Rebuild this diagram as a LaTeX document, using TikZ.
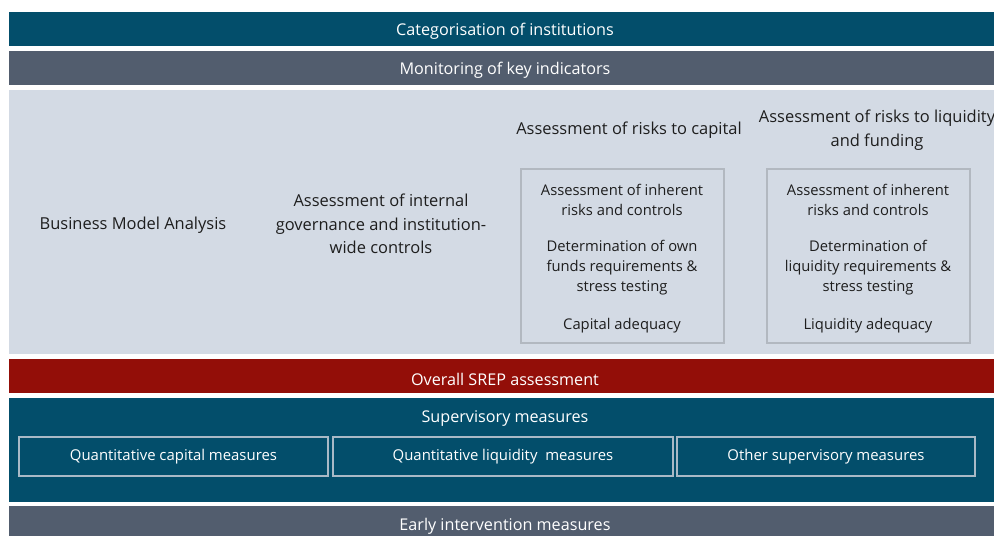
\documentclass[tikz,border=0pt]{standalone}
\usepackage{fontspec}
\setmainfont{Open Sans}
\usepackage{tikz}
\usetikzlibrary{positioning}

\definecolor{srepteal}{HTML}{034E6B}
\definecolor{srepslate}{HTML}{525D6E}
\definecolor{sreplight}{HTML}{D3DAE4}
\definecolor{srepred}{HTML}{930E08}
\definecolor{boxline}{HTML}{B2B8C0}
\definecolor{measline}{HTML}{A9B9C6}
\definecolor{darktext}{HTML}{1E1E1E}

\begin{document}
\begin{tikzpicture}[x=0.025cm,y=-0.025cm,
    bandtext/.style={text=white, font=\fontsize{11.5}{13}\selectfont},
    bigtext/.style={align=center, text=darktext, font=\fontsize{11.7}{16.8}\selectfont},
    smalltext/.style={align=center, text=darktext, font=\fontsize{10.5}{14.2}\selectfont},
    riskbox/.style={draw=boxline, line width=0.8pt, minimum width=5.075cm, minimum height=4.35cm},
    measbox/.style={draw=measline, line width=0.9pt, minimum height=0.975cm, inner sep=0pt,
        text=white, font=\fontsize{10.6}{12}\selectfont}]
    \clip (0,0) rectangle (994,536);
    \fill[white] (0,0) rectangle (994,536);

    % top bands
    \path[fill=srepteal] (9,12) rectangle (1001,46);
    \path[fill=srepslate] (9,51) rectangle (1001,85);
    \node[bandtext] (categ) at (505,31) {Categorisation of institutions};
    \node[bandtext] (monit) at (505,70) {Monitoring of key indicators};

    % pillars
    \node[rectangle, fill=sreplight, minimum width=24.8cm, minimum height=6.6cm] (pillars) at (505,222) {};
    \node[bigtext] (bma) at (133,225) {Business Model Analysis};
    \node[bigtext] (gov) at (381,224) {Assessment of internal\\governance and institution-\\wide controls};
    \node[bigtext] (capital) at (629,130) {Assessment of risks to capital};
    \node[bigtext] (liquidity) at (877,130) {Assessment of risks to liquidity\\and funding};

    \node[riskbox] (capbox) at (622.5,256) {};
    \node[riskbox] (liqbox) at (868.5,256) {};
    \node[smalltext] (capinh) at (622,200) {Assessment of inherent\\risks and controls};
    \node[smalltext] (capown) at (622,268) {Determination of own\\funds requirements \&\\stress testing};
    \node[smalltext] (capadq) at (622,326) {Capital adequacy};
    \node[smalltext] (liqinh) at (868,200) {Assessment of inherent\\risks and controls};
    \node[smalltext] (liqown) at (868,268) {Determination of\\liquidity requirements \&\\stress testing};
    \node[smalltext] (liqadq) at (868,326) {Liquidity adequacy};

    % SREP and measures
    \path[fill=srepred] (9,359) rectangle (1001,393);
    \node[bandtext] (srep) at (505,379) {Overall SREP assessment};
    \path[fill=srepteal] (9,398) rectangle (1001,502);
    \node[bandtext] (sup) at (505,419) {Supervisory measures};
    \node[measbox, minimum width=7.725cm] (capmeas) at (173.5,456.5) {Quantitative capital measures};
    \node[measbox, minimum width=8.5cm] (liqmeas) at (503,456.5) {Quantitative liquidity\ \ measures};
    \node[measbox, minimum width=7.45cm] (othmeas) at (826,456.5) {Other supervisory measures};

    \path[fill=srepslate] (9,506) rectangle (1001,545);
    \node[bandtext] (early) at (505,526) {Early intervention measures};
\end{tikzpicture}
\end{document}
